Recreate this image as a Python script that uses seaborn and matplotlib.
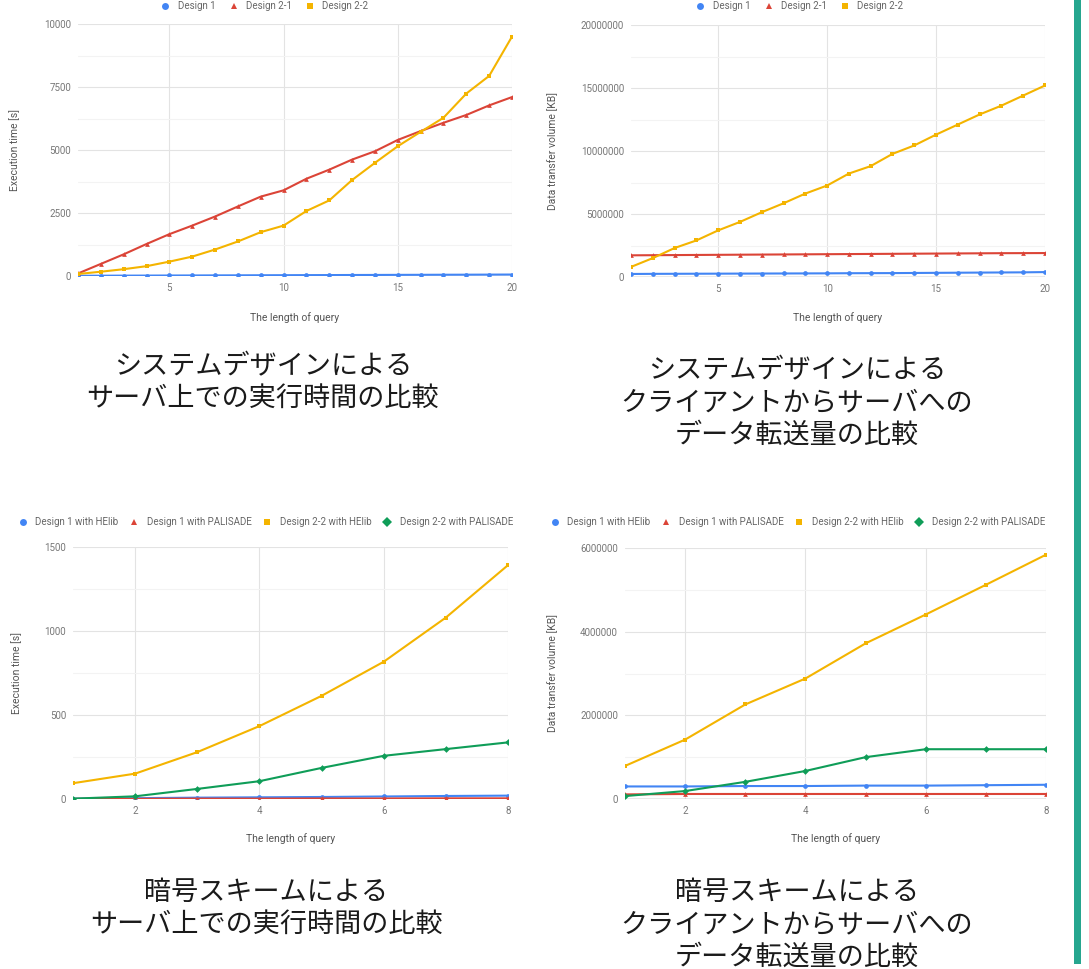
import matplotlib
matplotlib.use("Agg")
import matplotlib.pyplot as plt
from matplotlib.lines import Line2D
from matplotlib.patches import Rectangle
from matplotlib.ticker import MultipleLocator, FuncFormatter
import numpy as np
import pandas as pd
import seaborn as sns

# --- data ------------------------------------------------------------------
query_20 = list(range(1, 21))
query_8 = list(range(1, 9))

# system design: execution time [s]
time_design1 = [10, 12, 15, 17, 20, 22, 25, 27, 30, 32, 35, 37, 40, 42, 45, 47, 50, 52, 55, 58]
time_design21 = [100, 480, 860, 1270, 1660, 2000, 2360, 2760, 3150, 3400,
                 3860, 4220, 4620, 4950, 5400, 5750, 6080, 6390, 6770, 7100]
time_design22 = [80, 170, 270, 390, 570, 770, 1050, 1370, 1740, 2000,
                 2580, 3000, 3810, 4490, 5150, 5720, 6280, 7240, 7940, 9500]

# system design: data transfer volume [KB]
vol_design1 = [240000, 250000, 255000, 260000, 265000, 270000, 275000, 280000, 285000, 290000,
               300000, 305000, 310000, 320000, 330000, 340000, 350000, 360000, 370000, 390000]
vol_design21 = [1720000, 1730000, 1740000, 1750000, 1760000, 1770000, 1780000, 1790000, 1800000, 1810000,
                1820000, 1830000, 1840000, 1850000, 1860000, 1870000, 1880000, 1890000, 1895000, 1900000]
vol_design22 = [800000, 1500000, 2300000, 2900000, 3700000, 4370000, 5140000, 5850000, 6620000, 7260000,
                8210000, 8800000, 9770000, 10440000, 11300000, 12100000, 12900000, 13600000, 14400000, 15200000]

# encryption scheme: execution time [s]
time_d1_helib = [2, 5, 8, 10, 12, 15, 18, 20]
time_d1_palisade = [1, 1, 2, 2, 3, 3, 4, 4]
time_d22_helib = [94, 151, 279, 434, 614, 817, 1080, 1392]
time_d22_palisade = [2, 16, 60, 106, 185, 257, 297, 337]

# encryption scheme: data transfer volume [KB]
vol_d1_helib = [300000, 300000, 310000, 310000, 320000, 320000, 330000, 340000]
vol_d1_palisade = [110000, 120000, 120000, 120000, 120000, 120000, 120000, 120000]
vol_d22_helib = [790000, 1420000, 2260000, 2880000, 3720000, 4410000, 5120000, 5840000]
vol_d22_palisade = [70000, 190000, 410000, 670000, 1000000, 1190000, 1190000, 1190000]

design_names = ["Design 1", "Design 2-1", "Design 2-2"]
scheme_names = ["Design 1 with HElib", "Design 1 with PALISADE",
                "Design 2-2 with HElib", "Design 2-2 with PALISADE"]

captions = [
    "システムデザインによる\nサーバ上での実行時間の比較",
    "システムデザインによる\nクライアントからサーバへの\nデータ転送量の比較",
    "暗号スキームによる\nサーバ上での実行時間の比較",
    "暗号スキームによる\nクライアントからサーバへの\nデータ転送量の比較",
]

# --- style -------------------------------------------------------------------
BLUE, RED, YELLOW, GREEN = "#4285F4", "#DB4437", "#F4B400", "#0F9D58"
sns.set_theme(style="white")
plt.rcParams["font.family"] = ["Roboto", "DejaVu Sans"]
JP = ["Noto Sans CJK JP", "DejaVu Sans"]

design_palette = dict(zip(design_names, [BLUE, RED, YELLOW]))
design_markers = dict(zip(design_names, ["o", "^", "s"]))
scheme_palette = dict(zip(scheme_names, [BLUE, RED, YELLOW, GREEN]))
scheme_markers = dict(zip(scheme_names, ["o", "^", "s", "D"]))

W, H = 1089, 969
fig = plt.figure(figsize=(W / 100, H / 100), dpi=100)
fig.patch.set_facecolor("white")


def px_axes(x0, x1, y0, y1):
    return fig.add_axes([x0 / W, 1 - y0 / H, (x1 - x0) / W, (y0 - y1) / H])


def long_frame(x, names, series):
    parts = [pd.DataFrame({"query": x, "value": s, "series": n}) for n, s in zip(names, series)]
    return pd.concat(parts, ignore_index=True)


def draw_panel(ax, box, df, names, palette, markers, ymax, ystep, xticks, xlim, ylabel,
               ylabel_x, xlabel_y):
    x0, x1, y0, y1 = box
    sns.lineplot(data=df, x="query", y="value", hue="series", style="series",
                 hue_order=names, style_order=names, palette=palette, markers=markers,
                 dashes=False, legend=False, ax=ax, linewidth=1.5, markersize=3.4,
                 markeredgewidth=0, zorder=3)
    ax.set_xlim(*xlim)
    ax.set_ylim(0, ymax)
    ax.set_xticks(xticks)
    ax.set_yticks(np.arange(0, ymax + 1, ystep))
    ax.yaxis.set_minor_locator(MultipleLocator(ystep / 2))
    ax.yaxis.set_major_formatter(FuncFormatter(lambda v, p: f"{int(round(v))}"))
    ax.grid(which="major", axis="both", color="#e3e3e3", linewidth=0.8)
    ax.grid(which="minor", axis="y", color="#f3f3f3", linewidth=0.8)
    ax.set_axisbelow(True)
    for s in ax.spines.values():
        s.set_visible(False)
    ax.axhline(0, color="#9a9a9a", linewidth=1.0, zorder=2)
    ax.tick_params(axis="both", which="both", length=0, labelsize=7,
                   labelcolor="#777777", pad=5)
    ax.set_xlabel("The length of query", fontsize=7.5, color="#555555")
    ax.set_ylabel(ylabel, fontsize=7.5, color="#555555")
    # place axis titles at the reference pixel positions
    ax.yaxis.set_label_coords((ylabel_x - x0) / (x1 - x0), 0.5)
    ax.xaxis.set_label_coords(0.5, -(xlabel_y - y0) / (y0 - y1))


def legend_at(names, palette, markers, xc, yc, spacing):
    handles = [Line2D([], [], ls="", marker=markers[n], color=palette[n],
                      markersize=5, markeredgewidth=0) for n in names]
    fig.legend(handles, names, loc="center", bbox_to_anchor=(xc / W, 1 - yc / H),
               bbox_transform=fig.transFigure, ncol=len(names), frameon=False,
               fontsize=7, labelcolor="#666666", handlelength=0.8,
               handletextpad=0.85, columnspacing=spacing, borderaxespad=0,
               borderpad=0)


boxes = [(78, 512, 276, 24), (631, 1045, 277, 25), (73, 508, 799, 547), (625, 1046, 799, 548)]
ax1, ax2, ax3, ax4 = [px_axes(*b) for b in boxes]

draw_panel(ax1, boxes[0], long_frame(query_20, design_names, [time_design1, time_design21, time_design22]),
           design_names, design_palette, design_markers, 10000, 2500, [5, 10, 15, 20], (1, 20),
           "Execution time [s]", 20, 312)
draw_panel(ax2, boxes[1], long_frame(query_20, design_names, [vol_design1, vol_design21, vol_design22]),
           design_names, design_palette, design_markers, 20000000, 5000000, [5, 10, 15, 20], (1, 20),
           "Data transfer volume [KB]", 558, 312)
draw_panel(ax3, boxes[2], long_frame(query_8, scheme_names,
                                     [time_d1_helib, time_d1_palisade, time_d22_helib, time_d22_palisade]),
           scheme_names, scheme_palette, scheme_markers, 1500, 500, [2, 4, 6, 8], (1, 8),
           "Execution time [s]", 22, 833)
draw_panel(ax4, boxes[3], long_frame(query_8, scheme_names,
                                     [vol_d1_helib, vol_d1_palisade, vol_d22_helib, vol_d22_palisade]),
           scheme_names, scheme_palette, scheme_markers, 6000000, 2000000, [2, 4, 6, 8], (1, 8),
           "Data transfer volume [KB]", 558, 833)

# top legends hug the top edge (the reference crop nearly cuts them off)
legend_at(design_names, design_palette, design_markers, 265, 6, 1.5)
legend_at(design_names, design_palette, design_markers, 800, 6, 1.5)
legend_at(scheme_names, scheme_palette, scheme_markers, 266, 522, 1.25)
legend_at(scheme_names, scheme_palette, scheme_markers, 798, 522, 1.25)

caption_pos = [(263, 353), (797, 357), (266, 879), (797, 879)]
for (cx, cy), text in zip(caption_pos, captions):
    fig.text(cx / W, 1 - cy / H, text, ha="center", va="top", fontsize=19.5,
             family=JP, color="#1a1a1a", linespacing=1.25)

# teal frame edge on the right of the slide
fig.add_artist(Rectangle((1074 / W, 5 / H), 7 / W, 1 - 5 / H, transform=fig.transFigure,
                         facecolor="#26a68f", edgecolor="none"))

fig.savefig("out.png", dpi=100)
